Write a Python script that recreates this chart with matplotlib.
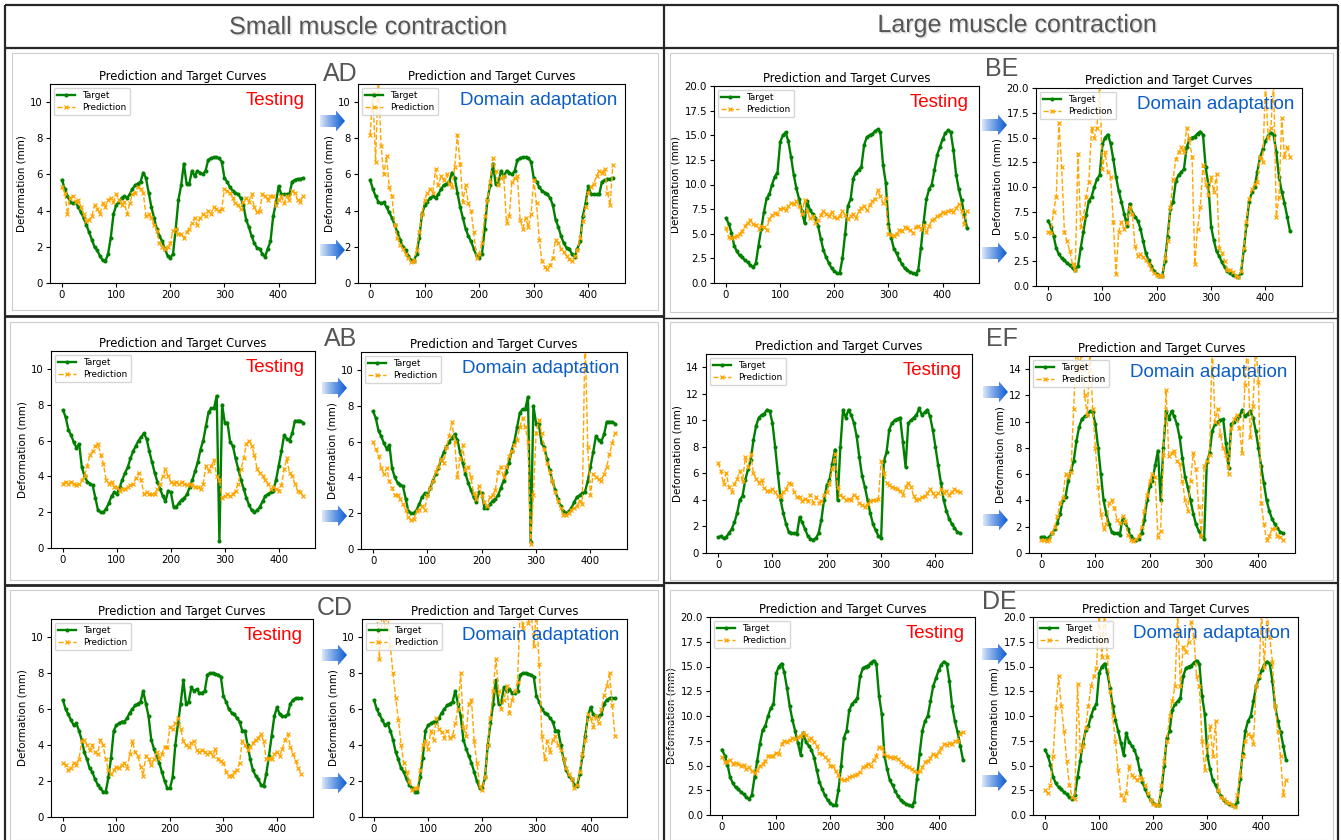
import numpy as np
import matplotlib.pyplot as plt
from matplotlib import patheffects as pe
from matplotlib.patches import Polygon, Rectangle
from matplotlib.colors import to_rgb

# sample index (every 5th sample of the 450-sample sequences)
x = list(range(0, 450, 5))

# ---- small muscle contraction ----
ad_target = [5.7, 5.2, 4.8, 4.5, 4.4, 4.45, 4.2, 3.9, 3.6, 3.2,
             2.8, 2.4, 2.0, 1.8, 1.5, 1.25, 1.2, 1.6, 2.5, 3.8,
             4.3, 4.5, 4.7, 4.8, 4.7, 4.9, 5.2, 5.4, 5.5, 5.6,
             6.1, 5.8, 5.0, 4.2, 3.6, 3.0, 2.6, 2.3, 1.9, 1.5,
             1.4, 1.6, 3.0, 4.6, 5.4, 6.6, 5.5, 5.5, 6.2, 5.9,
             6.2, 6.1, 6.0, 6.2, 6.8, 6.9, 6.95, 6.95, 6.9, 6.7,
             5.8, 5.6, 5.3, 5.1, 5.0, 4.9, 4.7, 4.3, 3.5, 3.1,
             2.6, 2.2, 1.95, 1.9, 1.6, 1.45, 1.9, 2.3, 3.7, 4.4,
             5.35, 4.9, 4.9, 4.9, 4.9, 5.6, 5.7, 5.75, 5.75, 5.8]
ad_test = [5.3, 5.0, 3.8, 4.7, 4.8, 4.5, 4.6, 4.2, 3.8, 3.4,
           3.5, 3.7, 4.3, 4.1, 3.8, 4.4, 4.2, 4.6, 4.7, 4.5,
           4.9, 4.6, 4.3, 4.5, 3.8, 4.4, 4.9, 5.0, 5.3, 5.2,
           5.0, 3.7, 3.8, 3.6, 3.2, 2.9, 2.2, 2.0, 1.9, 2.0,
           2.2, 2.9, 3.0, 2.7, 2.7, 2.5, 2.8, 3.0, 3.3, 3.6,
           3.2, 3.6, 3.8, 3.7, 4.0, 3.8, 4.2, 4.1, 4.0, 4.1,
           5.2, 5.1, 5.0, 4.7, 4.4, 4.3, 4.1, 4.5, 4.7, 4.5,
           4.9, 4.2, 3.9, 4.0, 4.9, 4.8, 4.6, 4.8, 4.8, 4.3,
           4.6, 4.8, 4.4, 4.8, 4.6, 5.1, 5.0, 4.6, 4.5, 4.8]
ad_da = [8.2, 10.5, 6.7, 11.5, 7.6, 6.0, 7.0, 5.3, 4.8, 3.2,
         2.5, 2.1, 1.9, 1.6, 1.4, 1.15, 1.2, 1.8, 2.8, 3.8,
         4.6, 5.0, 5.2, 5.0, 6.3, 5.4, 5.9, 5.7, 6.0, 5.5,
         5.3, 6.4, 8.2, 6.6, 4.5, 5.4, 4.4, 4.0, 2.8, 1.4,
         1.6, 2.2, 3.7, 4.6, 5.6, 6.9, 6.2, 5.4, 5.8, 5.9,
         3.3, 3.7, 5.6, 5.8, 5.9, 3.5, 3.0, 3.6, 3.1, 3.8,
         5.7, 4.4, 2.4, 1.2, 0.9, 0.75, 1.0, 1.4, 2.4, 2.2,
         1.9, 1.7, 1.5, 1.3, 1.2, 1.5, 1.8, 2.5, 3.4, 4.2,
         5.0, 5.3, 5.5, 5.9, 6.2, 6.1, 6.3, 5.0, 4.3, 6.5]

ab_target = [7.7, 7.3, 6.6, 6.3, 5.9, 5.6, 5.8, 4.5, 4.0, 3.7,
             3.6, 3.5, 2.8, 2.1, 2.0, 2.0, 2.2, 2.5, 2.9, 3.1,
             3.0, 3.4, 3.8, 4.2, 4.5, 5.0, 5.4, 5.7, 6.0, 6.2,
             6.4, 6.1, 5.4, 4.8, 4.2, 3.7, 3.3, 2.9, 2.6, 3.2,
             3.1, 2.3, 2.3, 2.5, 2.7, 2.8, 3.0, 3.4, 3.8, 4.3,
             4.8, 5.5, 6.0, 6.8, 7.6, 7.8, 7.8, 8.5, 0.4, 8.0,
             7.0, 7.0, 5.9, 5.7, 5.0, 4.4, 3.8, 3.3, 2.8, 2.4,
             2.1, 2.0, 2.1, 2.3, 2.6, 2.9, 3.0, 3.1, 3.2, 3.8,
             4.6, 5.4, 6.3, 6.1, 6.0, 6.4, 7.1, 7.1, 7.1, 7.0]
ab_test = [3.6, 3.7, 3.6, 3.7, 3.6, 3.5, 3.6, 3.8, 4.0, 4.6,
           5.2, 5.4, 5.7, 5.8, 5.2, 4.7, 3.8, 3.6, 3.7, 3.4,
           3.4, 3.2, 3.3, 3.3, 3.4, 3.5, 3.6, 3.9, 4.2, 3.8,
           3.0, 3.1, 3.0, 3.0, 3.0, 3.3, 3.6, 4.0, 4.4, 4.0,
           3.7, 3.6, 3.7, 3.6, 3.7, 3.6, 3.5, 3.6, 3.5, 3.4,
           3.4, 3.3, 3.6, 4.6, 4.3, 4.6, 4.9, 4.0, 3.8, 2.8,
           2.9, 3.0, 2.9, 3.0, 3.2, 3.6, 4.4, 5.0, 5.8, 6.0,
           5.7, 5.2, 4.4, 4.2, 4.0, 3.8, 3.6, 3.3, 3.4, 3.3,
           3.2, 3.5, 4.4, 5.0, 4.2, 4.0, 3.6, 3.2, 3.1, 2.9]
ab_da = [6.0, 5.6, 5.2, 4.5, 4.2, 4.5, 3.8, 3.4, 3.0, 3.0,
         2.8, 2.5, 2.2, 1.8, 1.6, 1.7, 2.1, 2.2, 2.4, 2.2,
         3.0, 3.4, 3.8, 4.3, 4.6, 5.0, 4.8, 5.7, 6.3, 7.1,
         6.0, 4.0, 5.0, 5.8, 4.4, 4.6, 4.0, 3.1, 2.8, 3.5,
         3.0, 2.6, 2.4, 2.9, 3.0, 3.3, 4.3, 4.6, 4.0, 4.6,
         5.2, 5.5, 5.8, 6.1, 6.8, 7.3, 6.8, 6.0, 0.3, 3.0,
         6.5, 7.2, 6.5, 5.6, 4.8, 4.3, 3.8, 3.2, 2.7, 2.3,
         1.9, 1.9, 2.0, 2.2, 2.3, 2.4, 2.7, 2.5, 12.0, 5.7,
         3.0, 4.2, 4.0, 3.9, 3.8, 4.2, 4.6, 5.3, 5.9, 6.5]

cd_target = [6.5, 6.0, 5.7, 5.4, 5.1, 5.2, 4.8, 4.3, 3.6, 3.2,
             2.7, 2.5, 2.1, 1.8, 1.6, 1.4, 1.4, 2.2, 3.3, 4.8,
             5.1, 5.2, 5.3, 5.3, 5.5, 5.8, 6.0, 6.2, 6.3, 6.4,
             7.0, 6.3, 5.6, 4.3, 3.8, 3.4, 3.0, 2.5, 2.0, 1.6,
             1.6, 2.2, 4.0, 5.2, 6.3, 7.6, 6.3, 6.4, 7.2, 7.0,
             7.1, 6.9, 6.9, 7.0, 7.9, 8.0, 8.0, 7.95, 7.9, 7.8,
             6.7, 6.4, 6.0, 5.8, 5.7, 5.5, 5.3, 4.8, 4.8, 4.0,
             3.2, 2.6, 2.3, 2.1, 1.8, 1.7, 2.4, 3.4, 4.5, 5.6,
             6.1, 5.7, 5.6, 5.6, 5.7, 6.3, 6.5, 6.6, 6.6, 6.6]
cd_test = [3.0, 2.9, 2.6, 2.7, 3.0, 2.9, 3.2, 4.2, 4.3, 4.0,
           3.7, 4.0, 3.6, 3.5, 4.3, 4.0, 3.2, 2.6, 2.4, 2.6,
           2.8, 2.7, 2.9, 3.0, 2.7, 3.5, 4.2, 3.6, 3.4, 2.8,
           2.3, 3.4, 3.2, 2.9, 3.2, 3.6, 3.3, 3.5, 3.9, 3.9,
           5.0, 4.9, 5.2, 5.5, 4.9, 4.2, 4.0, 3.9, 4.1, 4.2,
           3.7, 3.6, 3.7, 3.6, 3.5, 3.6, 3.4, 3.8, 3.2, 3.1,
           3.0, 2.5, 2.3, 2.3, 2.5, 2.6, 3.0, 4.2, 4.0, 3.7,
           3.9, 4.1, 4.3, 4.4, 4.6, 4.2, 3.2, 3.3, 3.2, 3.5,
           3.6, 3.4, 3.8, 4.3, 4.6, 3.9, 3.5, 3.1, 2.7, 2.4]
cd_da = [11.5, 11.5, 8.8, 11.5, 10.5, 11.5, 9.5, 8.0, 6.6, 5.4,
         4.0, 3.0, 2.5, 2.0, 1.5, 1.6, 1.6, 2.6, 4.0, 4.2,
         3.8, 4.8, 4.3, 5.5, 4.9, 4.7, 4.4, 4.8, 4.4, 4.5,
         5.2, 6.0, 8.0, 5.0, 4.5, 6.3, 6.5, 4.2, 3.0, 1.7,
         1.5, 2.2, 4.0, 5.5, 7.0, 8.8, 7.0, 6.0, 6.5, 7.3,
         5.8, 6.5, 7.0, 7.5, 11.5, 10.5, 11.5, 10.8, 11.5, 9.5,
         11.5, 8.5, 4.5, 3.2, 4.2, 3.6, 4.3, 4.5, 4.0, 3.7,
         3.2, 2.7, 2.4, 2.1, 1.6, 1.8, 2.5, 3.5, 4.3, 5.7,
         5.5, 5.0, 5.6, 5.2, 6.0, 6.8, 7.3, 8.0, 6.2, 4.5]

# ---- large muscle contraction ----
large_target = [6.6, 6.0, 5.1, 3.8, 3.2, 2.8, 2.6, 2.3, 2.1, 1.8,
                1.6, 2.0, 3.8, 5.5, 7.2, 8.6, 9.0, 10.0, 10.8, 11.2,
                14.3, 15.0, 15.3, 14.4, 12.8, 11.0, 9.6, 8.5, 7.3, 6.1,
                8.3, 7.4, 7.0, 6.6, 5.8, 4.5, 3.3, 2.6, 2.0, 1.5,
                1.2, 1.0, 1.0, 2.5, 5.0, 7.8, 8.5, 10.6, 11.2, 11.5,
                11.8, 14.0, 14.8, 15.0, 15.1, 15.4, 15.6, 15.3, 12.0, 10.2,
                6.0, 4.6, 3.5, 3.0, 2.4, 1.9, 1.5, 1.3, 1.1, 1.0,
                0.9, 1.3, 3.6, 6.2, 8.5, 9.5, 10.0, 11.5, 13.0, 13.8,
                14.6, 15.2, 15.5, 15.3, 13.5, 11.0, 9.5, 8.4, 7.0, 5.6]
be_test = [5.6, 4.7, 4.6, 4.7, 4.8, 5.0, 5.3, 5.8, 6.1, 6.4,
           6.0, 5.9, 5.5, 5.8, 5.7, 5.4, 6.5, 6.9, 7.1, 7.0,
           7.5, 7.6, 7.4, 7.8, 8.1, 8.0, 8.3, 7.8, 7.0, 8.4,
           7.2, 6.6, 6.8, 6.1, 6.4, 6.9, 7.3, 7.0, 6.8, 7.2,
           6.7, 6.6, 6.8, 7.3, 6.9, 6.5, 6.8, 7.0, 6.6, 7.3,
           7.6, 7.8, 7.4, 7.9, 8.3, 8.5, 9.4, 8.8, 8.1, 8.6,
           5.0, 4.9, 4.8, 5.0, 5.4, 5.3, 5.7, 5.6, 5.4, 5.1,
           5.7, 5.8, 5.5, 5.9, 5.2, 5.8, 6.4, 6.5, 6.8, 6.9,
           7.2, 7.1, 7.3, 7.4, 7.2, 7.6, 8.0, 7.3, 6.0, 7.3]
be_da = [5.5, 5.4, 7.5, 9.0, 16.5, 12.0, 5.5, 4.5, 3.5, 2.2,
         1.6, 13.3, 6.0, 7.0, 9.0, 10.5, 16.0, 15.0, 16.0, 20.5,
         11.8, 13.5, 11.5, 11.0, 6.5, 1.2, 5.5, 6.5, 5.8, 6.4,
         8.0, 7.3, 4.0, 3.0, 3.2, 2.9, 2.6, 2.2, 1.7, 1.3,
         1.1, 1.0, 1.0, 2.8, 4.5, 8.0, 10.8, 12.8, 13.5, 14.0,
         13.5, 16.0, 14.8, 13.0, 2.2, 5.8, 8.0, 12.2, 10.3, 9.2,
         11.0, 9.5, 11.3, 3.8, 3.3, 2.5, 1.6, 1.6, 1.4, 1.0,
         0.9, 1.5, 3.8, 6.5, 8.8, 9.8, 10.3, 10.5, 13.0, 12.5,
         20.5, 15.0, 16.0, 20.5, 7.0, 9.0, 17.0, 13.0, 14.0, 13.0]

ef_target = [1.2, 1.25, 1.1, 1.2, 1.5, 1.8, 2.3, 3.0, 4.0, 4.3,
             5.5, 6.3, 7.0, 8.5, 9.6, 10.2, 10.4, 10.5, 10.8, 10.7,
             9.8, 8.0, 6.0, 4.0, 3.0, 2.2, 1.6, 1.5, 1.5, 1.4,
             2.7, 2.3, 1.8, 1.3, 1.05, 1.0, 1.1, 1.5, 2.5, 4.0,
             5.1, 5.5, 6.7, 7.8, 4.0, 8.0, 10.8, 10.2, 10.8, 10.4,
             9.8, 8.8, 7.2, 5.8, 5.0, 4.0, 3.0, 2.2, 1.7, 1.3,
             1.1, 6.9, 7.6, 9.3, 9.8, 10.0, 10.1, 10.2, 8.4, 6.5,
             9.8, 10.0, 10.2, 10.4, 10.9, 10.4, 10.6, 10.8, 10.3, 9.3,
             8.0, 6.6, 5.3, 4.0, 3.2, 2.6, 2.2, 1.9, 1.6, 1.5]
ef_test = [6.8, 6.2, 5.2, 6.0, 5.0, 4.6, 5.2, 5.6, 6.2, 5.4,
           7.2, 6.5, 7.5, 6.0, 5.6, 5.3, 5.5, 4.9, 4.7, 4.7,
           4.8, 4.6, 4.3, 4.3, 4.6, 4.8, 5.3, 5.2, 4.6, 4.2,
           4.2, 3.9, 4.1, 3.9, 4.4, 3.8, 4.2, 3.8, 3.9, 4.4,
           4.6, 5.2, 6.3, 7.5, 5.0, 4.4, 4.2, 4.0, 4.1, 4.0,
           4.4, 4.2, 3.8, 3.6, 3.5, 3.7, 3.9, 4.0, 4.0, 4.1,
           6.9, 6.0, 5.3, 5.1, 5.0, 4.9, 4.8, 4.7, 4.4, 5.0,
           5.3, 5.0, 4.3, 4.0, 4.1, 4.2, 4.3, 4.5, 4.8, 4.5,
           4.3, 4.5, 4.8, 4.5, 4.7, 4.4, 4.6, 4.8, 4.7, 4.6]
ef_da = [1.0, 1.0, 0.9, 1.0, 1.5, 2.0, 2.8, 3.8, 4.2, 6.0,
         5.8, 6.2, 11.0, 16.0, 14.0, 15.5, 12.0, 10.5, 15.5, 11.0,
         8.0, 5.0, 3.0, 1.8, 2.2, 3.8, 4.0, 3.4, 2.5, 2.3,
         2.8, 2.4, 1.4, 1.0, 0.9, 1.1, 1.3, 2.0, 3.2, 4.4,
         5.5, 6.0, 5.8, 1.2, 1.7, 7.5, 12.4, 7.4, 7.6, 7.8,
         7.0, 6.8, 5.5, 4.0, 3.2, 5.5, 7.6, 6.4, 3.5, 1.3,
         6.6, 7.0, 7.5, 16.0, 10.0, 11.0, 9.0, 8.0, 7.5, 6.0,
         9.5, 10.2, 10.5, 9.5, 7.6, 12.8, 16.0, 8.8, 11.2, 16.0,
         13.0, 3.8, 2.2, 1.0, 1.3, 1.8, 1.9, 1.3, 1.2, 1.0]

de_test = [5.9, 5.4, 5.4, 5.6, 5.2, 5.3, 5.2, 5.0, 5.1, 4.6,
           4.8, 4.4, 4.2, 4.5, 5.0, 5.2, 5.5, 6.0, 6.0, 6.0,
           6.3, 6.2, 7.2, 7.5, 7.4, 7.6, 7.8, 7.7, 7.9, 8.0,
           8.3, 8.1, 7.6, 7.8, 7.4, 7.0, 6.3, 6.2, 5.9, 5.6,
           5.0, 4.9, 4.4, 4.0, 3.6, 3.5, 3.6, 3.8, 3.9, 4.0,
           4.1, 4.3, 4.8, 5.0, 5.2, 5.0, 5.6, 6.0, 6.9, 6.8,
           6.2, 6.0, 5.9, 5.8, 5.9, 5.7, 5.4, 5.2, 4.9, 4.8,
           4.6, 4.4, 4.3, 4.4, 4.8, 5.4, 5.5, 5.8, 6.2, 6.0,
           6.4, 6.8, 7.2, 7.1, 7.3, 7.2, 7.5, 7.5, 8.2, 8.4]
de_da = [2.5, 2.2, 3.0, 6.0, 10.8, 14.0, 11.0, 8.5, 5.5, 3.0,
         1.8, 1.6, 13.2, 6.5, 7.0, 8.8, 11.0, 13.0, 14.0, 14.8,
         20.5, 16.0, 20.5, 16.0, 12.5, 10.0, 7.5, 4.5, 2.0, 1.5,
         2.2, 5.0, 4.0, 3.8, 3.5, 3.8, 3.6, 3.0, 2.2, 1.5,
         1.1, 1.0, 1.0, 3.0, 5.5, 7.5, 10.0, 11.5, 13.0, 20.5,
         13.0, 17.0, 16.5, 17.5, 19.5, 18.0, 14.0, 13.0, 7.5, 4.5,
         7.0, 9.0, 6.0, 9.5, 2.5, 1.8, 1.6, 1.3, 1.2, 1.0,
         0.8, 2.0, 4.0, 6.0, 7.5, 8.2, 8.0, 7.2, 13.0, 14.0,
         20.5, 15.0, 20.5, 18.0, 15.5, 11.0, 8.5, 6.0, 2.0, 3.5]

W, H = 1341, 840
fig = plt.figure(figsize=(W / 100, H / 100), dpi=100)
fig.patch.set_facecolor('white')


def box(l, t, r, b):
    return [l / W, 1 - b / H, (r - l) / W, (b - t) / H]


def curves(rect, target, pred, ymax, note, note_color, nx):
    ax = fig.add_axes(box(*rect))
    ax.plot(x, target, color='green', marker='.', ms=3.8, lw=1.7, label='Target')
    ax.plot(x, pred, color='orange', ls='--', marker='x', ms=3.2, mew=0.9,
            lw=1.0, label='Prediction')
    ax.set_ylim(0, ymax)
    ax.set_title('Prediction and Target Curves', fontsize=8.4, pad=3)
    ax.set_ylabel('Deformation (mm)', fontsize=7.5, labelpad=3)
    ax.tick_params(labelsize=7.3, length=3, pad=2)
    ax.legend(loc='upper left', fontsize=6.4, borderaxespad=0.4,
              handlelength=2.0, labelspacing=0.3)
    ax.text(nx, 0.917, note, transform=ax.transAxes, ha='right', va='center',
            color=note_color, fontsize=13.5, family='Liberation Sans')
    return ax


red, blue = '#ff0000', '#0a5cc8'

# left column: small contraction
curves((50, 84, 315, 283), ad_target, ad_test, 11, 'Testing', red, 0.962)
curves((358, 84, 625, 283), ad_target, ad_da, 11, 'Domain adaptation', blue, 0.972)
curves((51, 351, 315, 548), ab_target, ab_test, 11, 'Testing', red, 0.962)
curves((361, 352, 627, 549), ab_target, ab_da, 11, 'Domain adaptation', blue, 0.972)
curves((51, 619, 313, 817), cd_target, cd_test, 11, 'Testing', red, 0.962)
curves((362, 619, 627, 817), cd_target, cd_da, 11, 'Domain adaptation', blue, 0.972)

# right column: large contraction
curves((714, 86, 979, 283), large_target, be_test, 20, 'Testing', red, 0.962)
curves((1036, 88, 1302, 286), large_target, be_da, 20, 'Domain adaptation', blue, 0.972)
curves((706, 354, 972, 553), ef_target, ef_test, 15, 'Testing', red, 0.962)
curves((1029, 356, 1295, 553), ef_target, ef_da, 15, 'Domain adaptation', blue, 0.972)
curves((710, 617, 975, 815), large_target, de_test, 20, 'Testing', red, 0.962)
curves((1033, 617, 1298, 815), large_target, de_da, 20, 'Domain adaptation', blue, 0.972)

# overlay in pixel coordinates for frames, headings and arrows
ov = fig.add_axes([0, 0, 1, 1], zorder=10)
ov.axis('off')

# light borders of the individual panels
for l, t, r, b in [(12, 53, 658, 310), (670, 53, 1333, 312),
                   (10, 322, 658, 580), (670, 322, 1333, 580),
                   (10, 590, 658, 840), (670, 590, 1333, 840)]:
    ov.add_patch(Rectangle((l, t), r - l, b - t, fill=False, ec='#cccccc', lw=0.8))

dark = '#262626'
for xs, ys, lw in [([5, 1338], [5, 5], 1.6), ([5, 5], [5, 840], 1.6),
                   ([664, 664], [5, 840], 1.6), ([1338, 1338], [5, 840], 1.6),
                   ([5, 1338], [48, 48], 1.6),
                   ([5, 664], [316, 316], 2.0), ([5, 664], [585, 585], 2.0),
                   ([664, 1338], [318, 318], 1.0), ([664, 1338], [583, 583], 1.6)]:
    ov.plot(xs, ys, color=dark, lw=lw, solid_capstyle='butt')

shadow = [pe.SimplePatchShadow(offset=(1, -1), shadow_rgbFace='#b0b0b0', alpha=0.5),
          pe.Normal()]
ov.text(368, 27, 'Small muscle contraction', fontsize=18, color='#555555',
        ha='center', va='center', family='Liberation Sans', path_effects=shadow)
ov.text(1017, 25, 'Large muscle contraction', fontsize=18, color='#555555',
        ha='center', va='center', family='Liberation Sans', path_effects=shadow)

for lab, cx, cy in [('AD', 340, 74), ('AB', 341, 339), ('CD', 335, 608),
                    ('BE', 1002, 69), ('EF', 1002, 339), ('DE', 999, 602)]:
    ov.text(cx, cy, lab, fontsize=18, color='#555555', ha='center', va='center',
            family='Liberation Sans')

grad = np.zeros((1, 64, 4))
grad[..., :3] = to_rgb('#0b5bd3')
grad[..., 3] = np.linspace(0.08, 1.0, 64) ** 0.8


def arrow(xl, yc, length=25, half=10.5, shaft=6, head=9):
    pts = [(xl, yc - shaft), (xl + length - head, yc - shaft),
           (xl + length - head, yc - half), (xl + length, yc),
           (xl + length - head, yc + half), (xl + length - head, yc + shaft),
           (xl, yc + shaft)]
    poly = Polygon(pts, closed=True, fc='none', ec='none')
    ov.add_patch(poly)
    im = ov.imshow(grad, extent=(xl, xl + length, yc + half, yc - half),
                   aspect='auto', interpolation='bilinear')
    im.set_clip_path(poly)


for xl, yc in [(320, 121), (320, 250), (982, 125), (982, 253),
               (322, 388), (322, 516), (983, 392), (983, 520),
               (322, 655), (322, 783), (982, 654), (982, 781)]:
    arrow(xl, yc)

ov.set_xlim(0, W)
ov.set_ylim(H, 0)

fig.savefig('out.png', dpi=100)
